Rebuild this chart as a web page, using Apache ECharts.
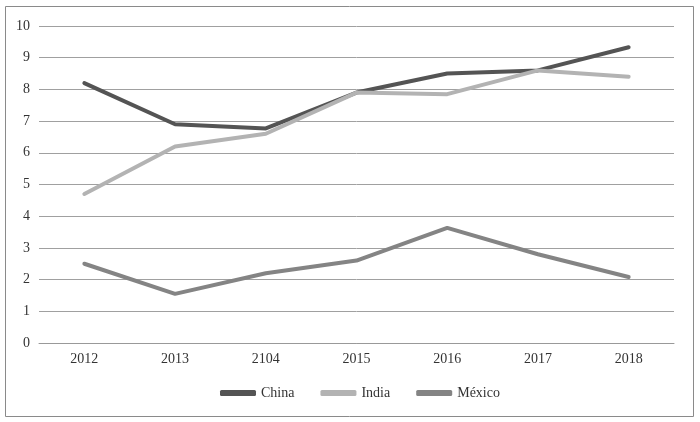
<!DOCTYPE html>
<html><head><meta charset="utf-8">
<script src="https://cdn.jsdelivr.net/npm/echarts@6/dist/echarts.min.js"></script>
<style>html,body{margin:0;padding:0;background:#fff}#c{width:700px;height:422px}</style>
</head><body><div id="c"></div>
<script>
var categories = ['2012','2013','2104','2015','2016','2017','2018'];
var china = [8.2, 6.9, 6.77, 7.9, 8.5, 8.6, 9.33];
var india = [4.7, 6.2, 6.6, 7.9, 7.85, 8.6, 8.4];
var mexico = [2.5, 1.55, 2.2, 2.6, 3.63, 2.8, 2.08];
var yTicks = [0,1,2,3,4,5,6,7,8,9,10];

var font = 'Liberation Serif';
var chart = echarts.init(document.getElementById('c'));
function ser(name, data, color){
  return {name:name, type:'line', data:data, symbol:'none', smooth:false,
    lineStyle:{width:4, color:color, cap:'round', join:'round'}, itemStyle:{color:color}};
}
chart.setOption({
  animation:false,
  textStyle:{fontFamily:font},
  graphic:[{type:'rect', shape:{x:5.5, y:6.5, width:688, height:410},
    style:{fill:'none', stroke:'#8a8a8a', lineWidth:1}, silent:true}],
  grid:{left:39, right:26, top:26, bottom:79, containLabel:false},
  legend:{top:381, left:215, itemWidth:36, itemHeight:6, itemGap:26,
    icon:'roundRect',
    textStyle:{fontFamily:font, fontSize:14, color:'#333'},
    data:['China','India','México']},
  xAxis:{type:'category', data:categories, boundaryGap:true,
    axisLine:{show:true, lineStyle:{color:'#999', width:1}},
    axisTick:{show:false},
    axisLabel:{fontFamily:font, fontSize:14, color:'#333', margin:9}},
  yAxis:{type:'value', min:0, max:10, interval:1,
    axisLine:{show:false}, axisTick:{show:false},
    splitLine:{lineStyle:{color:'#a0a0a0', width:1}},
    axisLabel:{fontFamily:font, fontSize:14, color:'#333', margin:9,
      formatter:function(v){return yTicks.indexOf(v)>=0? String(v):'';}}},
  series:[ser('China', china, '#545454'), ser('India', india, '#b3b3b3'), ser('México', mexico, '#848484')]
});
</script></body></html>
